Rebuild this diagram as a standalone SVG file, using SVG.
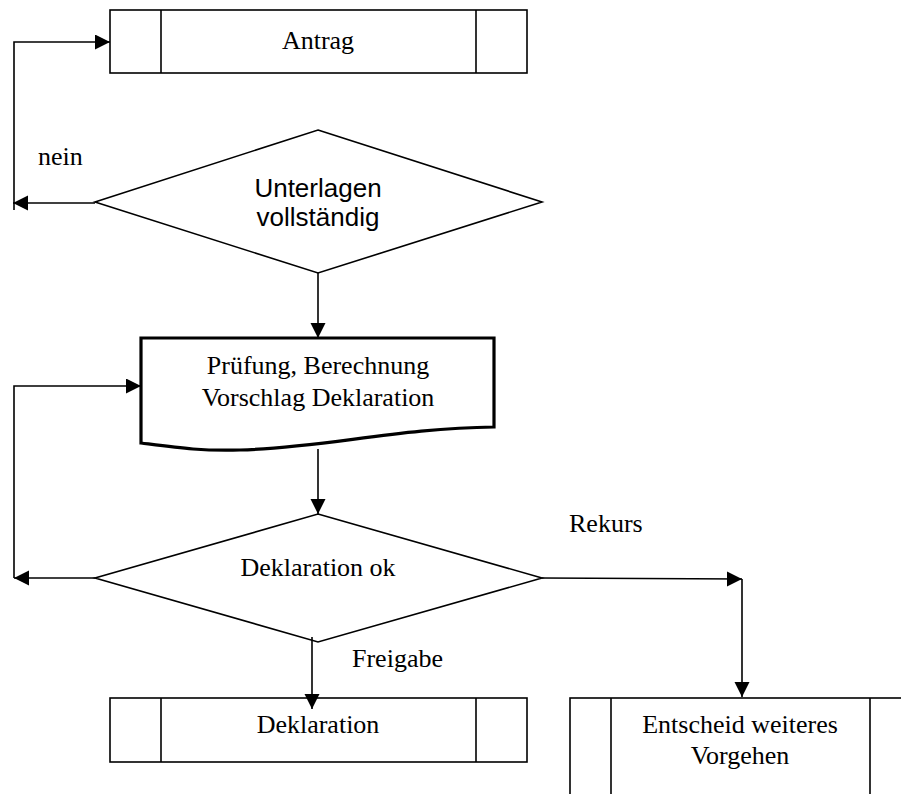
<svg xmlns="http://www.w3.org/2000/svg" width="901" height="794" viewBox="0 0 901 794">
<style>
.shape{fill:#fff;stroke:#000;stroke-width:1.6}
.thick{fill:#fff;stroke:#000;stroke-width:3.2}
.line{fill:none;stroke:#000;stroke-width:1.6}
.conn{fill:none;stroke:#000;stroke-width:1.6;marker-end:url(#arr)}
.serif{font-family:"Liberation Serif","Times New Roman",serif;font-size:26px;fill:#000}
.sans{font-family:"Liberation Sans",Arial,sans-serif;font-size:26px;fill:#000}
</style>
<defs>
<marker id="arr" markerUnits="userSpaceOnUse" markerWidth="16" markerHeight="16" refX="15" refY="7.5" orient="auto">
<path d="M0,0 L15,7.5 L0,15 z" fill="#000"/>
</marker>
</defs>
<rect width="901" height="794" fill="#fff"/>

<g id="antrag">
<rect class="shape" x="110" y="10" width="417" height="63"/>
<line class="line" x1="161" y1="10" x2="161" y2="73"/>
<line class="line" x1="476" y1="10" x2="476" y2="73"/>
<text class="serif" x="318" y="49" text-anchor="middle">Antrag</text>
</g>

<g id="unterlagen">
<polygon class="shape" points="318,130 542,202 318,273 95,202"/>
<text class="sans" x="318" y="197" text-anchor="middle">Unterlagen</text>
<text class="sans" x="318" y="226" text-anchor="middle">vollständig</text>
</g>

<g id="pruefung">
<path class="thick" d="M141,338 H494 V427 C400,428 320,448 240,450 C200,451 180,448 141,443 Z"/>
<text class="serif" x="318" y="374" text-anchor="middle">Prüfung, Berechnung</text>
<text class="serif" x="318" y="406" text-anchor="middle">Vorschlag Deklaration</text>
</g>

<g id="deklaration-ok">
<polygon class="shape" points="318,514 542,578 318,642 95,578"/>
<text class="serif" x="318" y="576" text-anchor="middle">Deklaration ok</text>
</g>

<g id="deklaration">
<rect class="shape" x="110" y="698" width="417" height="64"/>
<line class="line" x1="161" y1="698" x2="161" y2="762"/>
<line class="line" x1="476" y1="698" x2="476" y2="762"/>
<text class="serif" x="318" y="733" text-anchor="middle">Deklaration</text>
</g>

<g id="entscheid">
<rect class="shape" x="570" y="698" width="340" height="110"/>
<line class="line" x1="611" y1="698" x2="611" y2="794"/>
<line class="line" x1="870" y1="698" x2="870" y2="794"/>
<text class="serif" x="740" y="733" text-anchor="middle">Entscheid weiteres</text>
<text class="serif" x="740" y="764" text-anchor="middle">Vorgehen</text>
</g>

<g id="connectors">
<path class="conn" d="M95,203 H13"/>
<path class="conn" d="M14,210 V42 H110"/>
<path class="conn" d="M318,273 V338"/>
<path class="conn" d="M318,449 V514"/>
<path class="conn" d="M95,578 H14"/>
<path class="conn" d="M14,578 V386 H141"/>
<path class="conn" d="M542,578 L742,579"/>
<path class="conn" d="M742,579 V697"/>
<path class="conn" d="M312,637 V709"/>
<text class="serif" x="38" y="165">nein</text>
<text class="serif" x="569" y="532">Rekurs</text>
<text class="serif" x="352" y="667">Freigabe</text>
</g>
</svg>
